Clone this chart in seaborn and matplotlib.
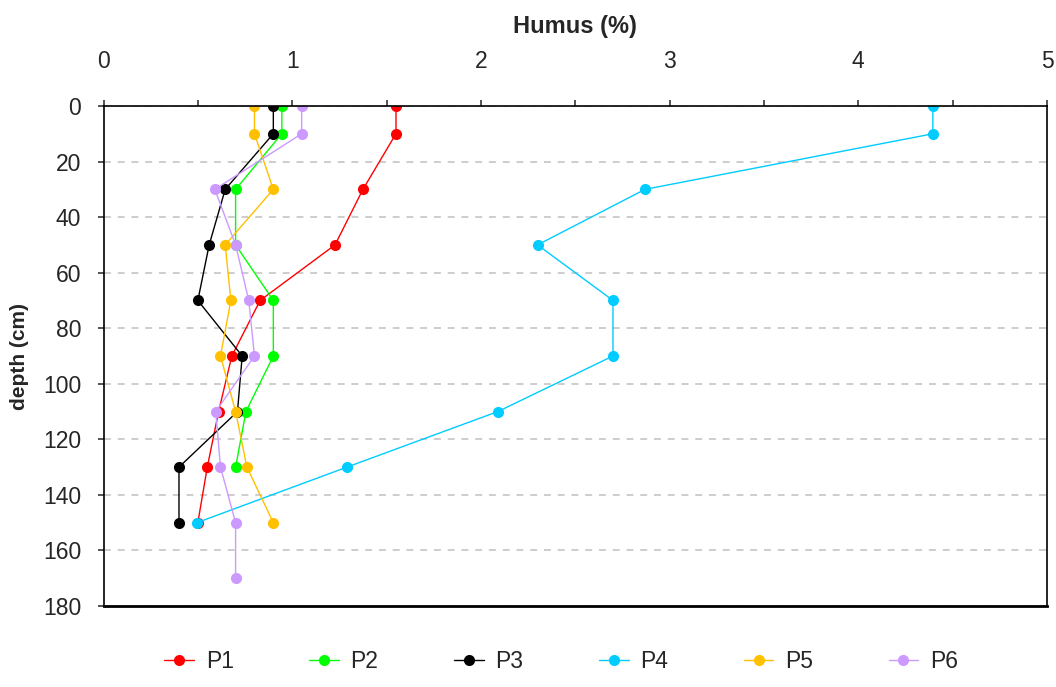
import matplotlib
matplotlib.use("Agg")
import matplotlib.pyplot as plt
from matplotlib.ticker import MultipleLocator
import pandas as pd
import seaborn as sns

depths = [0, 10, 30, 50, 70, 90, 110, 130, 150, 170]

p1 = [1.55, 1.55, 1.375, 1.227, 0.83, 0.68, 0.61, 0.55, 0.50]
p2 = [0.945, 0.945, 0.70, 0.70, 0.90, 0.90, 0.755, 0.70]
p3 = [0.90, 0.90, 0.645, 0.56, 0.50, 0.735, 0.71, 0.40, 0.40]
p4 = [4.395, 4.395, 2.87, 2.30, 2.70, 2.70, 2.09, 1.29, 0.495]
p5 = [0.80, 0.80, 0.90, 0.645, 0.675, 0.62, 0.70, 0.76, 0.90]
p6 = [1.05, 1.05, 0.59, 0.70, 0.77, 0.80, 0.595, 0.62, 0.70, 0.70]

profiles = ["P1", "P2", "P3", "P4", "P5", "P6"]
colors = ["#ff0000", "#00ff00", "#000000", "#00ccff", "#ffc000", "#cc99ff"]

rows = []
for name, values in zip(profiles, [p1, p2, p3, p4, p5, p6]):
    for d, v in zip(depths, values):
        rows.append({"profile": name, "depth": d, "humus": v})
df = pd.DataFrame(rows)

sns.set_style("ticks")
plt.rcParams["font.family"] = ["Liberation Sans", "DejaVu Sans"]
# x ticks only on top, outward
plt.rcParams["xtick.bottom"] = False
plt.rcParams["xtick.top"] = True
plt.rcParams["xtick.labelbottom"] = False
plt.rcParams["xtick.labeltop"] = True
plt.rcParams["xtick.minor.bottom"] = False
plt.rcParams["xtick.minor.top"] = True
plt.rcParams["xtick.major.bottom"] = False
plt.rcParams["xtick.major.top"] = True

fig = plt.figure(figsize=(10.56, 6.87), dpi=100)
# axes box in pixels: left 103.5, right 1047, top 106, bottom 606
ax = fig.add_axes([103.5 / 1056, 1 - 606 / 687, (1047 - 103.5) / 1056, 500 / 687])

sns.lineplot(
    data=df,
    x="humus",
    y="depth",
    hue="profile",
    hue_order=profiles,
    palette=dict(zip(profiles, colors)),
    estimator=None,
    sort=False,
    marker="o",
    markersize=8,
    markeredgewidth=0,
    linewidth=1.0,
    ax=ax,
)

ax.set_xlim(0, 5)
ax.set_ylim(180, 0)
ax.xaxis.set_label_position("top")
ax.xaxis.set_major_locator(MultipleLocator(1))
ax.xaxis.set_minor_locator(MultipleLocator(0.5))
ax.yaxis.set_major_locator(MultipleLocator(20))
ax.tick_params(axis="x", which="major", direction="out", length=4, width=1.1,
               pad=20, labelsize=16.5)
ax.tick_params(axis="x", which="minor", direction="out", length=4, width=1.1)
ax.tick_params(axis="x", which="both", top=True, bottom=False,
               labeltop=True, labelbottom=False)
ax.tick_params(axis="y", which="both", direction="out", length=4, width=1.1,
               pad=12, labelsize=16.5, right=False)

ax.yaxis.grid(True, linestyle=(0, (4.5, 4.5)), color="#c0c0c0", linewidth=1.1)
ax.xaxis.grid(False)
ax.set_axisbelow(True)
for side in ["top", "bottom", "left", "right"]:
    ax.spines[side].set_visible(True)
    ax.spines[side].set_color("black")
    ax.spines[side].set_linewidth(1.2)
ax.spines["bottom"].set_linewidth(2)

ax.set_xlabel("Humus (%)", fontsize=17, fontweight="bold", labelpad=12)
ax.set_ylabel("depth (cm)", fontsize=15, fontweight="bold", labelpad=10)

sns.move_legend(
    ax,
    "center",
    bbox_to_anchor=(0.485, -(662 - 606) / 500),
    ncol=6,
    frameon=False,
    title=None,
    fontsize=16.5,
    handlelength=1.3,
    columnspacing=3.3,
    handletextpad=0.5,
)

plt.savefig("out.png", dpi=100)
